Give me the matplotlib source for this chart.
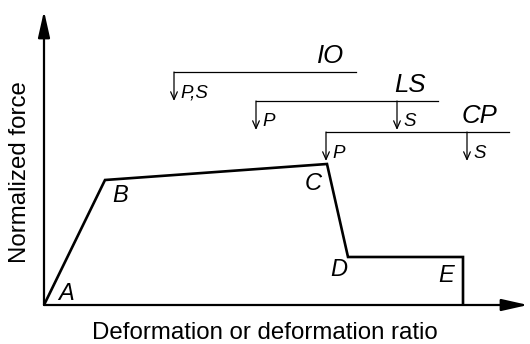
import matplotlib
matplotlib.use("Agg")
import matplotlib.pyplot as plt

plt.rcParams["font.family"] = ["Liberation Sans", "DejaVu Sans"]

# idealised force-deformation curve (units: px from origin)
curve_x = [0, 61, 283, 304, 419, 419]
curve_y = [0, 125, 141, 48, 48, 0]
point_names = ["A", "B", "C", "D", "E"]
point_label_x = [22, 76, 269, 295, 402]
point_label_y = [11, 110, 122, 35, 30]

# performance levels
levels = ["IO", "LS", "CP"]
level_y = [233, 204, 173]
level_x0 = [130, 212, 282]
level_x1 = [312, 394, 465]
# (level index, x position, label) for the vertical markers
marker_level = [0, 1, 1, 2, 2]
marker_x = [130, 212, 353, 282, 423]
marker_text = ["P,S", "P", "S", "P", "S"]
ARROW_LEN = 29

fig = plt.figure(figsize=(5.3, 3.44), dpi=100)
ax = fig.add_axes([0, 0, 1, 1])
ax.set_xlim(-44, 486)
ax.set_ylim(-39, 305)
ax.axis("off")

# axes with filled arrow heads
big = dict(arrowstyle="-|>,head_length=16,head_width=3.6", lw=1.6,
           color="black", shrinkA=0, shrinkB=0, mutation_scale=1)
ax.annotate("", xy=(0, 294), xytext=(0, 0), arrowprops=big)
ax.annotate("", xy=(484, 0), xytext=(0, 0), arrowprops=big)

ax.text(221, -34, "Deformation or deformation ratio", fontsize=17.3,
        ha="center", va="baseline")
ax.text(-24, 133, "Normalized force", fontsize=17.3, rotation=90,
        ha="center", va="center")

# curve
ax.plot(curve_x, curve_y, color="black", lw=1.9, solid_joinstyle="miter",
        solid_capstyle="butt")
for name, lx, ly in zip(point_names, point_label_x, point_label_y):
    ax.text(lx, ly, name, fontsize=17, style="italic", ha="center", va="center")

# performance level brackets
for name, y, x0, x1 in zip(levels, level_y, level_x0, level_x1):
    ax.plot([x0, x1], [y, y], color="black", lw=0.9)
    ax.text(x1 - 12, y + 4, name, fontsize=18.5, style="italic",
            ha="right", va="bottom")

thin = dict(arrowstyle="->,head_length=5.5,head_width=2.4", lw=0.9,
            color="black", shrinkA=0, shrinkB=0, mutation_scale=1)
for li, x, t in zip(marker_level, marker_x, marker_text):
    y = level_y[li]
    ax.annotate("", xy=(x, y - ARROW_LEN), xytext=(x, y), arrowprops=thin)
    ax.text(x + 6, y - 21, t, fontsize=13.5, style="italic",
            ha="left", va="center")

fig.savefig("out.png", dpi=100)
